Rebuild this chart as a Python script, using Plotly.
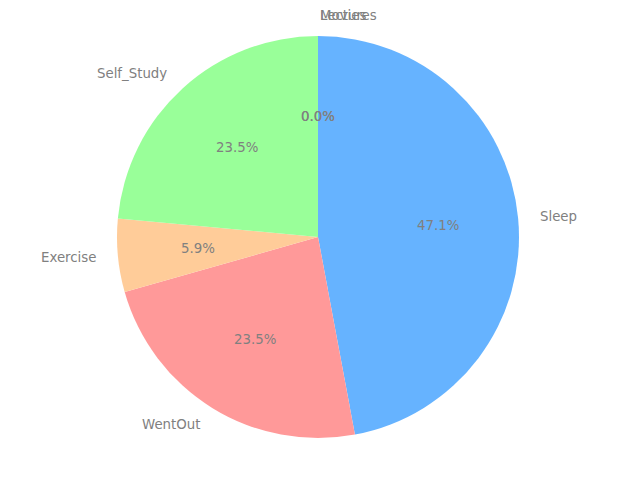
import math
import plotly.graph_objects as go

labels = ["Lectures", "Movies", "Sleep", "WentOut", "Exercise", "Self_Study"]
values = [0, 0, 8, 4, 1, 4]
colors = ["#c2c2f0", "#ffb3e6", "#66b3ff", "#ff9999", "#ffcc99", "#99ff99"]

W, H = 640, 480
cx, cy, R = 318, 237, 201

fig = go.Figure()
fig.add_trace(go.Pie(
    labels=labels, values=values, sort=False, direction="clockwise", rotation=0,
    marker=dict(colors=colors, line=dict(width=0)),
    textinfo="none", hoverinfo="label+percent", showlegend=False,
    domain=dict(x=[(cx - R) / W, (cx + R) / W], y=[(H - cy - R) / H, (H - cy + R) / H]),
))

total = sum(values)
cum = 0
ann = []
font = dict(family="DejaVu Sans", size=13.33, color="#808080")
for lab, v in zip(labels, values):
    frac_mid = (cum + v / 2) / total
    cum += v
    th = math.radians(90 - 360 * frac_mid)
    c, s = math.cos(th), math.sin(th)
    # outer label
    lx = cx + 1.1 * R * c
    ly = cy - 1.1 * R * s
    ann.append(dict(x=lx / W, y=1 - ly / H, xref="paper", yref="paper", text=lab,
                    showarrow=False, font=font, xanchor="left" if c > -1e-9 else "right",
                    yanchor="middle"))
    px = cx + 0.6 * R * c
    py = cy - 0.6 * R * s
    ann.append(dict(x=px / W, y=1 - py / H, xref="paper", yref="paper",
                    text=f"{100 * v / total:.1f}%", showarrow=False, font=font,
                    xanchor="center", yanchor="middle"))

fig.update_layout(width=W, height=H, margin=dict(l=0, r=0, t=0, b=0),
                  paper_bgcolor="white", plot_bgcolor="white", annotations=ann)
fig.write_html("out.html")
